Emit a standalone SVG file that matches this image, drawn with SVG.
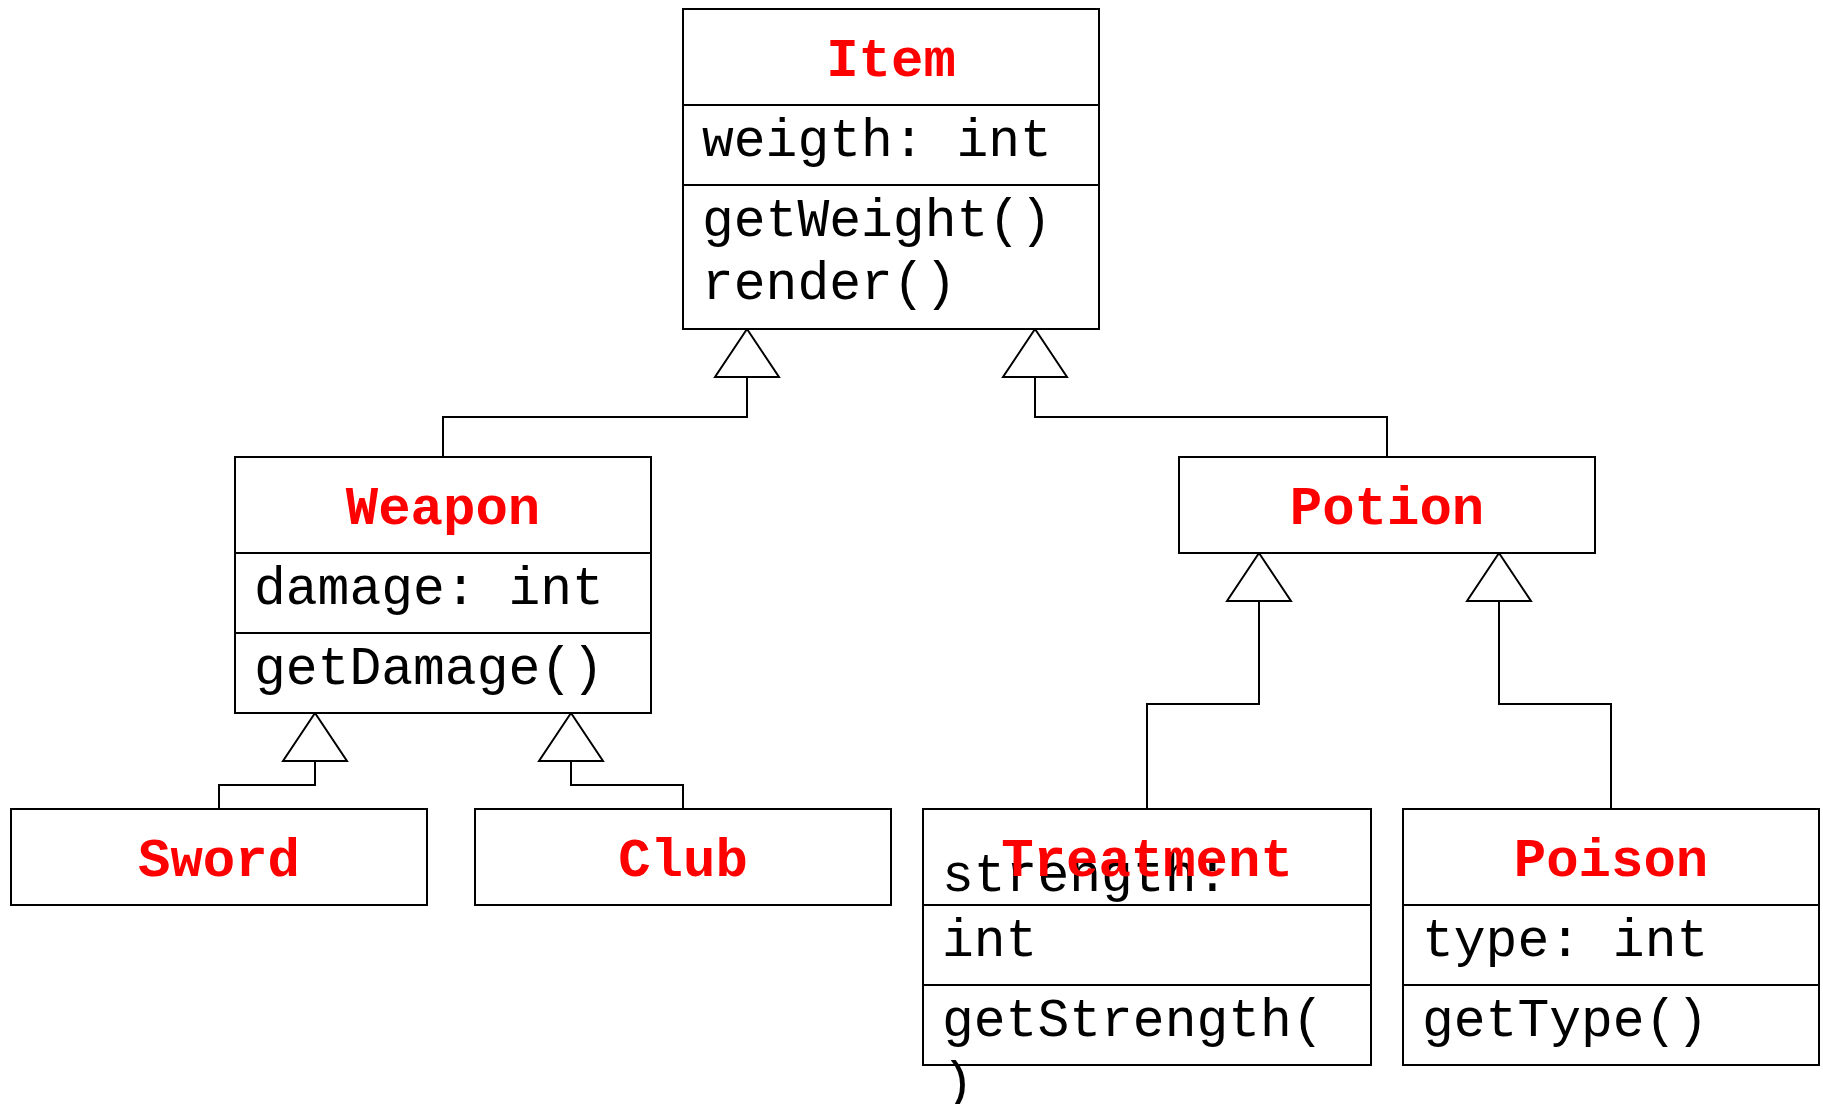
<svg xmlns="http://www.w3.org/2000/svg" width="1823" height="1104" viewBox="0 0 1823 1104">
<style>
.box{fill:#fff;stroke:#000;stroke-width:2}
.div{stroke:#000;stroke-width:2}
.title{font-family:"Liberation Mono","Courier New",monospace;font-weight:bold;font-size:54px;fill:#ff0000;text-anchor:middle}
.t{font-family:"Liberation Mono","Courier New",monospace;font-size:53px;fill:#000}
.conn{fill:none;stroke:#000;stroke-width:2}
.tri{fill:#fff;stroke:#000;stroke-width:2;stroke-linejoin:miter}
</style>
<rect width="1823" height="1104" fill="#fff"/>
<g id="connectors">
<polyline class="conn" points="443,457 443,417 747,417 747,377"/>
<polygon class="tri" points="747,329 715,377 779,377"/>
<polyline class="conn" points="1387,457 1387,417 1035,417 1035,377"/>
<polygon class="tri" points="1035,329 1003,377 1067,377"/>
<polyline class="conn" points="219,809 219,785 315,785 315,761"/>
<polygon class="tri" points="315,713 283,761 347,761"/>
<polyline class="conn" points="683,809 683,785 571,785 571,761"/>
<polygon class="tri" points="571,713 539,761 603,761"/>
<polyline class="conn" points="1147,809 1147,704 1259,704 1259,601"/>
<polygon class="tri" points="1259,553 1227,601 1291,601"/>
<polyline class="conn" points="1611,809 1611,704 1499,704 1499,601"/>
<polygon class="tri" points="1499,553 1467,601 1531,601"/>
</g>
<g id="Item">
<rect class="box" x="683" y="9" width="416" height="320"/>
<line class="div" x1="683" y1="105" x2="1099" y2="105"/>
<line class="div" x1="683" y1="185" x2="1099" y2="185"/>
<text class="title" x="891" y="76">Item</text>
<text class="t" x="702" y="156">weigth: int</text>
<text class="t" x="702" y="236">getWeight()</text>
<text class="t" x="702" y="299">render()</text>
</g>
<g id="Weapon">
<rect class="box" x="235" y="457" width="416" height="256"/>
<line class="div" x1="235" y1="553" x2="651" y2="553"/>
<line class="div" x1="235" y1="633" x2="651" y2="633"/>
<text class="title" x="443" y="524">Weapon</text>
<text class="t" x="254" y="604">damage: int</text>
<text class="t" x="254" y="684">getDamage()</text>
</g>
<g id="Potion">
<rect class="box" x="1179" y="457" width="416" height="96"/>
<text class="title" x="1387" y="524">Potion</text>
</g>
<g id="Sword">
<rect class="box" x="11" y="809" width="416" height="96"/>
<text class="title" x="219" y="876">Sword</text>
</g>
<g id="Club">
<rect class="box" x="475" y="809" width="416" height="96"/>
<text class="title" x="683" y="876">Club</text>
</g>
<g id="Treatment">
<rect class="box" x="923" y="809" width="448" height="256"/>
<line class="div" x1="923" y1="905" x2="1371" y2="905"/>
<line class="div" x1="923" y1="985" x2="1371" y2="985"/>
<text class="t" x="942" y="891">strength:</text>
<text class="title" x="1147" y="876">Treatment</text>
<text class="t" x="942" y="956">int</text>
<text class="t" x="942" y="1036">getStrength(</text>
<text class="t" x="942" y="1099">)</text>
</g>
<g id="Poison">
<rect class="box" x="1403" y="809" width="416" height="256"/>
<line class="div" x1="1403" y1="905" x2="1819" y2="905"/>
<line class="div" x1="1403" y1="985" x2="1819" y2="985"/>
<text class="title" x="1611" y="876">Poison</text>
<text class="t" x="1422" y="956">type: int</text>
<text class="t" x="1422" y="1036">getType()</text>
</g>
</svg>
